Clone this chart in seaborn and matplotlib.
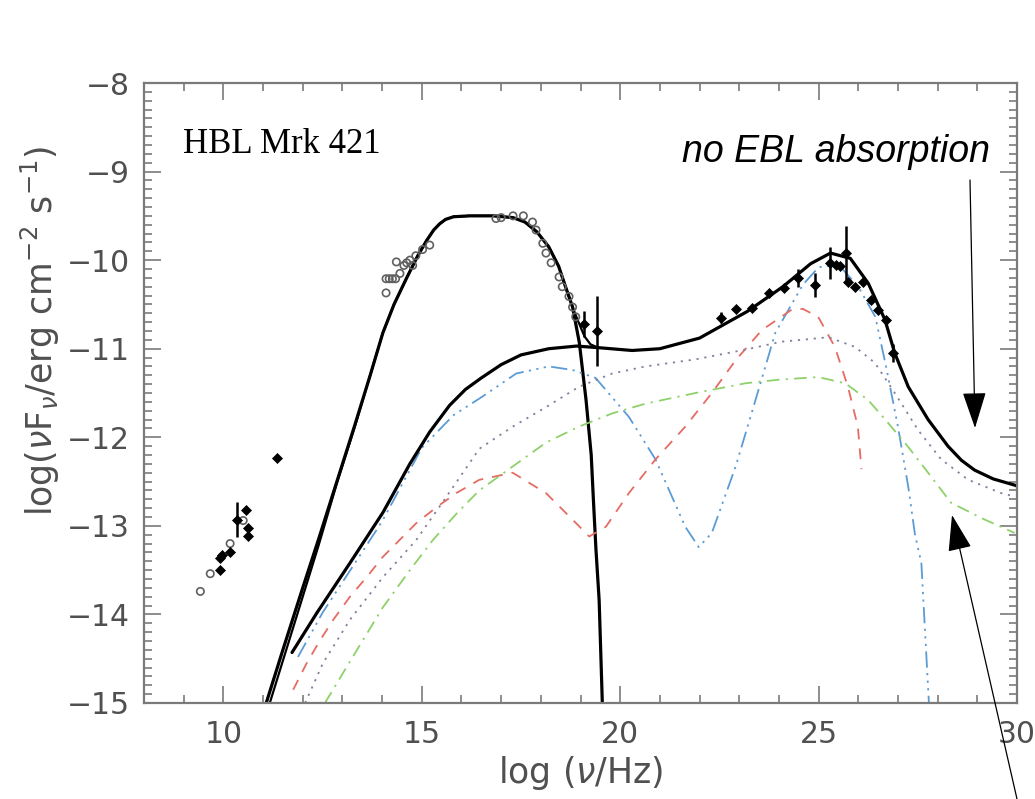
import numpy as np
import pandas as pd
import matplotlib
matplotlib.use("Agg")
import matplotlib.pyplot as plt
from matplotlib.ticker import MultipleLocator
from matplotlib.patches import FancyArrowPatch
import seaborn as sns

# ---------------- data ----------------
# synchrotron component (black)
sync_x = [11.08, 11.5, 12.0, 12.4, 12.86, 13.3, 13.7, 14.02, 14.3, 14.62, 14.9, 15.12, 15.3,
          15.45, 15.6, 15.8, 16.2, 16.8, 17.3, 17.6, 17.9, 18.2, 18.45, 18.6, 18.8, 18.97, 19.14,
          19.27, 19.33, 19.39, 19.47, 19.55]
sync_y = [-15.0, -14.4, -13.7, -13.15, -12.5, -11.88, -11.3, -10.82, -10.5, -10.2, -9.95, -9.78, -9.66,
          -9.59, -9.54, -9.51, -9.5, -9.5, -9.52, -9.57, -9.68, -9.85, -10.07, -10.27, -10.53, -10.93,
          -11.58, -12.2, -12.75, -13.27, -13.84, -15.0]

# total model, low-energy part (black, nearly on top of synchrotron)
tot_x = [11.17, 11.55, 12.0, 12.4, 12.86, 13.3, 13.7, 14.02, 14.3, 14.62, 14.9, 15.12, 15.3,
         15.45, 15.6, 15.8, 16.2, 16.8, 17.3, 17.6, 17.9, 18.2, 18.45, 18.6, 18.8, 18.95, 19.1,
         19.25, 19.4]
tot_y = [-15.0, -14.45, -13.8, -13.22, -12.52, -11.9, -11.3, -10.82, -10.5, -10.2, -9.95, -9.78, -9.66,
         -9.59, -9.54, -9.51, -9.5, -9.5, -9.52, -9.57, -9.68, -9.85, -10.07, -10.27, -10.53, -10.7,
         -10.86, -10.95, -10.98]

# inverse-Compton total (black)
ic_x = [11.73, 12.36, 13.19, 14.02, 14.7, 15.2, 15.7, 16.1, 16.5, 17.0, 17.5, 18.2, 18.9, 19.5, 20.3,
        21.0, 22.0, 23.2, 24.1, 24.8, 25.3, 25.8, 26.25, 26.67, 26.92, 27.26, 27.76, 28.26, 28.6,
        28.93, 29.4, 29.94, 30.0]
ic_y = [-14.43, -13.98, -13.42, -12.85, -12.3, -11.94, -11.64, -11.46, -11.33, -11.18, -11.07, -11.0,
        -10.97, -10.99, -11.02, -11.0, -10.88, -10.58, -10.3, -10.04, -9.92, -9.98, -10.26, -10.67,
        -11.05, -11.43, -11.8, -12.1, -12.26, -12.37, -12.47, -12.54, -12.55]

# blue dash-dot-dot component
blue_x = [11.88, 12.5, 13.2, 14.0, 15.0, 15.8, 16.53, 17.38, 18.2, 18.8, 19.38, 20.22, 20.89, 21.64,
          21.98, 22.31, 22.91, 23.41, 23.91, 24.6, 25.0, 25.5, 26.0, 26.43, 26.7, 27.0, 27.26,
          27.43, 27.59, 27.68, 27.78]
blue_y = [-14.48, -13.98, -13.5, -12.95, -12.12, -11.75, -11.54, -11.28, -11.2, -11.24, -11.33, -11.77,
          -12.25, -13.01, -13.24, -13.08, -12.33, -11.58, -10.82, -10.28, -10.08, -10.05, -10.3,
          -10.64, -11.2, -11.88, -12.56, -13.1, -13.42, -14.17, -15.0]

# red dashed component
red_x = [11.76, 12.1, 12.44, 12.77, 13.19, 13.61, 14.02, 14.44, 14.86, 15.37, 15.87, 16.45, 17.29,
         18.13, 18.8, 19.22, 19.64, 20.22, 20.89, 21.64, 22.31, 22.91, 23.57, 24.32, 24.6, 24.99,
         25.41, 25.74, 25.99, 26.08]
red_y = [-14.85, -14.55, -14.29, -14.06, -13.8, -13.58, -13.35, -13.16, -12.97, -12.79, -12.63, -12.48,
         -12.4, -12.63, -12.93, -13.12, -13.01, -12.63, -12.25, -11.88, -11.5, -11.13, -10.79, -10.56,
         -10.55, -10.64, -10.98, -11.43, -11.88, -12.36]

# grey dotted component
dot_x = [12.06, 12.51, 13.19, 14.02, 14.86, 15.7, 16.45, 17.29, 18.13, 18.96, 19.8, 20.64, 21.9,
         23.16, 24.07, 24.57, 25.25, 25.92, 26.42, 26.92, 27.51, 28.09, 28.77, 29.6, 29.95]
dot_y = [-15.0, -14.55, -14.06, -13.58, -13.16, -12.62, -12.13, -11.88, -11.66, -11.43, -11.28, -11.2,
         -11.12, -11.01, -10.92, -10.9, -10.87, -10.98, -11.16, -11.5, -11.92, -12.25, -12.48,
         -12.63, -12.67]

# green dash-dot component
grn_x = [12.56, 13.3, 14.02, 14.7, 15.28, 15.9, 16.45, 17.29, 18.13, 18.96, 19.8, 20.64, 21.9,
         23.16, 23.99, 24.99, 25.67, 26.25, 26.68, 27.26, 27.76, 28.34, 29.19, 29.94]
grn_y = [-15.0, -14.45, -13.92, -13.5, -13.16, -12.85, -12.6, -12.33, -12.06, -11.88, -11.73, -11.62,
         -11.5, -11.39, -11.35, -11.32, -11.39, -11.58, -11.8, -12.11, -12.4, -12.74, -12.93, -13.08]

# observed points: grey open symbols
open_x = [9.42, 9.67, 10.17, 10.5, 14.10, 14.10, 14.18, 14.26, 14.34, 14.36, 14.45, 14.55, 14.62,
          14.7, 14.77, 14.85, 15.02, 15.2, 16.87, 17.0, 17.3, 17.56, 17.79, 17.88, 18.05, 18.13,
          18.26, 18.46, 18.54, 18.71, 18.8, 18.88]
open_y = [-13.74, -13.54, -13.2, -12.94, -10.37, -10.21, -10.21, -10.21, -10.21, -10.02, -10.15,
          -10.06, -10.03, -10.0, -10.06, -9.95, -9.88, -9.83, -9.53, -9.52, -9.5, -9.5, -9.57, -9.66,
          -9.81, -9.92, -10.03, -10.19, -10.3, -10.41, -10.53, -10.64]

# observed points: black filled with error bars
fill_x = [9.92, 9.92, 9.97, 10.17, 10.34, 10.57, 10.62, 10.62, 11.35, 19.09, 19.42,
          22.54, 22.91, 23.32, 23.74, 24.12, 24.49, 24.91, 25.3, 25.45, 25.55, 25.7, 25.75, 25.92,
          26.12, 26.33, 26.5, 26.7, 26.88]
fill_y = [-13.5, -13.36, -13.33, -13.29, -12.93, -12.82, -13.02, -13.12, -12.23, -10.72, -10.8,
          -10.65, -10.55, -10.54, -10.37, -10.31, -10.2, -10.28, -10.03, -10.05, -10.07, -9.92, -10.25,
          -10.3, -10.25, -10.45, -10.56, -10.68, -11.05]
fill_err = [0.0, 0.0, 0.0, 0.0, 0.2, 0.0, 0.0, 0.0, 0.0, 0.15, 0.4,
            0.06, 0.0, 0.0, 0.0, 0.0, 0.1, 0.14, 0.18, 0.0, 0.0, 0.3, 0.0, 0.0,
            0.0, 0.0, 0.0, 0.0, 0.1]

x_ticks = [10, 15, 20, 25, 30]
y_ticks = [-8, -9, -10, -11, -12, -13, -14, -15]

# ---------------- figure ----------------
sns.set_theme(style="white")
plt.rcParams["font.family"] = ["DejaVu Sans"]
plt.rcParams["mathtext.fontset"] = "dejavusans"

W, H = 1035, 799
fig = plt.figure(figsize=(W / 100, H / 100), dpi=100)
ax = fig.add_axes([144 / W, 1 - 703 / H, (1017 - 144) / W, (703 - 83) / H])

grey_axis = "#7a7a7a"
black_lw = 2.3

curves = [
    (sync_x, sync_y, "black", black_lw, "-"),
    (tot_x, tot_y, "black", 1.6, "-"),
    (blue_x, blue_y, "#5b9bd5", 1.3, (0, (9, 3, 1.2, 3, 1.2, 3, 1.2, 3))),
    (red_x, red_y, "#e66b63", 1.3, (0, (6, 5))),
    (dot_x, dot_y, "#857d9c", 1.3, (0, (1.2, 3.2))),
    (grn_x, grn_y, "#8ed16a", 1.3, (0, (7, 3.5, 1.2, 3.5))),
    (ic_x, ic_y, "black", black_lw, "-"),
]
for cx, cy, col, lw, ls in curves:
    sns.lineplot(x=cx, y=cy, ax=ax, color=col, lw=lw, linestyle=ls,
                 sort=False, estimator=None, clip_on=True)

# data points
ax.errorbar(fill_x, fill_y, yerr=fill_err, fmt="none", ecolor="black", elinewidth=1.8, capsize=0, zorder=5)
sns.scatterplot(x=open_x, y=open_y, ax=ax, marker="o", s=28, facecolor="none",
                edgecolor="#606060", linewidth=1.2, zorder=6)
sns.scatterplot(x=fill_x, y=fill_y, ax=ax, marker="D", s=26, color="black",
                edgecolor="black", linewidth=0.5, zorder=6)

ax.set_xlim(8, 30)
ax.set_ylim(-15, -8)
ax.set_xticks(x_ticks)
ax.set_yticks(y_ticks)
ax.set_xticklabels([str(t) for t in x_ticks])
ax.set_yticklabels(["\u2212" + str(abs(t)) for t in y_ticks])
ax.xaxis.set_minor_locator(MultipleLocator(1))
ax.yaxis.set_minor_locator(MultipleLocator(0.1))
ax.tick_params(which="both", direction="in", top=True, right=True, bottom=True, left=True,
               colors=grey_axis, labelcolor="#505050", width=1.2)
ax.tick_params(which="major", length=12, labelsize=21.5)
ax.tick_params(which="minor", length=6)
ax.tick_params(axis="x", which="major", pad=12)
ax.tick_params(axis="y", which="major", pad=10)
for sp in ax.spines.values():
    sp.set_color(grey_axis)
    sp.set_linewidth(1.6)

ax.set_xlabel(r"log ($\nu$/Hz)", fontsize=25, color="#505050")
ax.set_ylabel(r"log($\nu$F$_\nu$/erg cm$^{-2}$ s$^{-1}$)", fontsize=25, color="#505050")
ax.xaxis.set_label_coords(0.5, -0.083)
ax.yaxis.set_label_coords(-0.094, 0.6)

# annotations
fig.text(183 / W, 1 - 153 / H, "HBL Mrk 421", family=["Liberation Serif", "DejaVu Serif"],
         fontsize=25, color="black", ha="left", va="baseline")
fig.text(990 / W, 1 - 162 / H, "no EBL absorption", family=["Liberation Sans", "DejaVu Sans"],
         style="italic", fontsize=27, color="black", ha="right", va="baseline")

arrow_style = "-|>,head_length=23,head_width=7.5"
for (x0, y0), (x1, y1) in [((970, 180), (975, 428)), ((1017, 799), (952, 515))]:
    arr = FancyArrowPatch((x0 / W, 1 - y0 / H), (x1 / W, 1 - y1 / H), transform=fig.transFigure,
                          arrowstyle=arrow_style, mutation_scale=1, color="black", lw=0.9,
                          shrinkA=0, shrinkB=0, clip_on=False)
    fig.add_artist(arr)

fig.savefig("out.png", dpi=100)
